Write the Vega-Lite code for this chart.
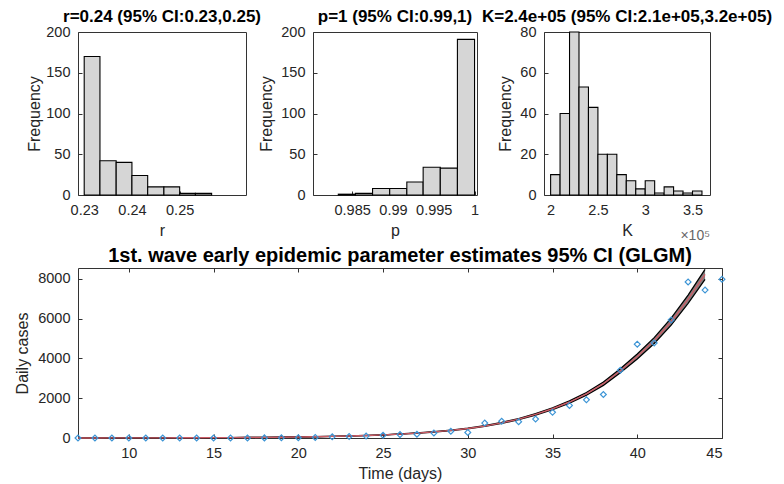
{
  "$schema": "https://vega.github.io/schema/vega-lite/v6.json",
  "background": "white",
  "padding": {"left": 12, "top": 7, "right": 0, "bottom": 0},
  "config": {
    "font": "Liberation Sans",
    "view": {"stroke": "#333333", "strokeWidth": 1},
    "axis": {
      "domain": false, "grid": false,
      "labelFont": "Liberation Sans", "labelFontSize": 14.5, "labelColor": "#262626",
      "titleFont": "Liberation Sans", "titleFontSize": 16, "titleFontWeight": "normal", "titleColor": "#262626",
      "tickColor": "#333333", "tickSize": -4, "labelPadding": 12, "titlePadding": 6
    },
    "title": {"font": "Liberation Sans", "fontWeight": "bold", "fontSize": 17, "color": "#000000", "offset": -2, "frame": "group", "anchor": "middle"}
  },
  "datasets": {
    "rhist": [
      {"bin_start": 0.2300, "bin_end": 0.2333, "count": 170},
      {"bin_start": 0.2333, "bin_end": 0.2367, "count": 42},
      {"bin_start": 0.2367, "bin_end": 0.2400, "count": 40},
      {"bin_start": 0.2400, "bin_end": 0.2433, "count": 24},
      {"bin_start": 0.2433, "bin_end": 0.2467, "count": 10},
      {"bin_start": 0.2467, "bin_end": 0.2500, "count": 10},
      {"bin_start": 0.2500, "bin_end": 0.2533, "count": 2},
      {"bin_start": 0.2533, "bin_end": 0.2567, "count": 2}
    ],
    "phist": [
      {"bin_start": 0.9833, "bin_end": 0.9854, "count": 1},
      {"bin_start": 0.9854, "bin_end": 0.9875, "count": 2},
      {"bin_start": 0.9875, "bin_end": 0.9896, "count": 8},
      {"bin_start": 0.9896, "bin_end": 0.9917, "count": 8},
      {"bin_start": 0.9917, "bin_end": 0.9937, "count": 16},
      {"bin_start": 0.9937, "bin_end": 0.9958, "count": 34},
      {"bin_start": 0.9958, "bin_end": 0.9979, "count": 33},
      {"bin_start": 0.9979, "bin_end": 1.0000, "count": 191}
    ],
    "khist": [
      {"bin_start": 200000, "bin_end": 210000, "count": 10},
      {"bin_start": 210000, "bin_end": 220000, "count": 40},
      {"bin_start": 220000, "bin_end": 230000, "count": 80},
      {"bin_start": 230000, "bin_end": 240000, "count": 53},
      {"bin_start": 240000, "bin_end": 250000, "count": 43},
      {"bin_start": 250000, "bin_end": 260000, "count": 20},
      {"bin_start": 260000, "bin_end": 270000, "count": 20},
      {"bin_start": 270000, "bin_end": 280000, "count": 10},
      {"bin_start": 280000, "bin_end": 290000, "count": 7},
      {"bin_start": 290000, "bin_end": 300000, "count": 3},
      {"bin_start": 300000, "bin_end": 310000, "count": 7},
      {"bin_start": 310000, "bin_end": 320000, "count": 1},
      {"bin_start": 320000, "bin_end": 330000, "count": 4},
      {"bin_start": 330000, "bin_end": 340000, "count": 2},
      {"bin_start": 340000, "bin_end": 350000, "count": 1},
      {"bin_start": 350000, "bin_end": 360000, "count": 2}
    ],
    "fit": [
      {"day": 7, "fit": 2.8, "lo": 2.7, "hi": 2.9},
      {"day": 8, "fit": 3.5, "lo": 3.4, "hi": 3.6},
      {"day": 9, "fit": 4.4, "lo": 4.3, "hi": 4.5},
      {"day": 10, "fit": 5.5, "lo": 5.3, "hi": 5.7},
      {"day": 11, "fit": 7, "lo": 6.8, "hi": 7.2},
      {"day": 12, "fit": 8.5, "lo": 8.2, "hi": 8.8},
      {"day": 13, "fit": 11, "lo": 10.7, "hi": 11.3},
      {"day": 14, "fit": 13, "lo": 12.6, "hi": 13.4},
      {"day": 15, "fit": 17, "lo": 16.5, "hi": 17.5},
      {"day": 16, "fit": 21, "lo": 20.4, "hi": 21.6},
      {"day": 17, "fit": 26, "lo": 25.2, "hi": 26.8},
      {"day": 18, "fit": 33, "lo": 32, "hi": 34},
      {"day": 19, "fit": 41, "lo": 39.8, "hi": 42.2},
      {"day": 20, "fit": 51, "lo": 49.5, "hi": 52.5},
      {"day": 21, "fit": 64, "lo": 62, "hi": 66},
      {"day": 22, "fit": 80, "lo": 78, "hi": 82},
      {"day": 23, "fit": 100, "lo": 97, "hi": 103},
      {"day": 24, "fit": 125, "lo": 121, "hi": 129},
      {"day": 25, "fit": 157, "lo": 152, "hi": 162},
      {"day": 26, "fit": 197, "lo": 191, "hi": 203},
      {"day": 27, "fit": 246, "lo": 239, "hi": 253},
      {"day": 28, "fit": 308, "lo": 299, "hi": 317},
      {"day": 29, "fit": 385, "lo": 373, "hi": 397},
      {"day": 30, "fit": 480, "lo": 466, "hi": 494},
      {"day": 31, "fit": 600, "lo": 582, "hi": 618},
      {"day": 32, "fit": 760, "lo": 737, "hi": 783},
      {"day": 33, "fit": 950, "lo": 922, "hi": 979},
      {"day": 34, "fit": 1190, "lo": 1154, "hi": 1226},
      {"day": 35, "fit": 1470, "lo": 1426, "hi": 1514},
      {"day": 36, "fit": 1810, "lo": 1756, "hi": 1864},
      {"day": 37, "fit": 2220, "lo": 2153, "hi": 2287},
      {"day": 38, "fit": 2730, "lo": 2648, "hi": 2812},
      {"day": 39, "fit": 3380, "lo": 3279, "hi": 3481},
      {"day": 40, "fit": 4100, "lo": 3977, "hi": 4223},
      {"day": 41, "fit": 4900, "lo": 4753, "hi": 5047},
      {"day": 42, "fit": 5850, "lo": 5675, "hi": 6026},
      {"day": 43, "fit": 6980, "lo": 6771, "hi": 7189},
      {"day": 44, "fit": 8230, "lo": 7983, "hi": 8477}
    ],
    "obs": [
      {"day": 7, "cases": 0}, {"day": 8, "cases": 0}, {"day": 9, "cases": 0},
      {"day": 10, "cases": 0}, {"day": 11, "cases": 0}, {"day": 12, "cases": 1},
      {"day": 13, "cases": 1}, {"day": 14, "cases": 2}, {"day": 15, "cases": 2},
      {"day": 16, "cases": 4}, {"day": 17, "cases": 5}, {"day": 18, "cases": 6},
      {"day": 19, "cases": 10}, {"day": 20, "cases": 15}, {"day": 21, "cases": 30},
      {"day": 22, "cases": 60}, {"day": 23, "cases": 80}, {"day": 24, "cases": 95},
      {"day": 25, "cases": 140}, {"day": 26, "cases": 170}, {"day": 27, "cases": 190},
      {"day": 28, "cases": 250}, {"day": 29, "cases": 340}, {"day": 30, "cases": 280},
      {"day": 31, "cases": 750}, {"day": 32, "cases": 840}, {"day": 33, "cases": 820},
      {"day": 34, "cases": 950}, {"day": 35, "cases": 1290}, {"day": 36, "cases": 1640},
      {"day": 37, "cases": 1920}, {"day": 38, "cases": 2190}, {"day": 39, "cases": 3410},
      {"day": 40, "cases": 4720}, {"day": 41, "cases": 4780}, {"day": 42, "cases": 5940},
      {"day": 43, "cases": 7850}, {"day": 44, "cases": 7440}, {"day": 45, "cases": 7980}
    ]
  },
  "spacing": 1,
  "vconcat": [
    {
      "bounds": "flush",
      "spacing": 67,
      "hconcat": [
        {
          "width": 168, "height": 163,
          "title": {"text": "r=0.24 (95% CI:0.23,0.25)"},
          "data": {"name": "rhist"},
          "mark": {"type": "rect", "fill": "#d6d6d6", "stroke": "#000000", "strokeWidth": 1.1},
          "encoding": {
            "x": {"field": "bin_start", "type": "quantitative", "scale": {"domain": [0.2287, 0.2639], "nice": false, "zero": false},
                  "axis": {"values": [0.23, 0.24, 0.25], "format": ".2f", "title": "r"}},
            "x2": {"field": "bin_end"},
            "y": {"field": "count", "type": "quantitative", "scale": {"domain": [0, 200], "nice": false},
                  "axis": {"values": [0, 50, 100, 150, 200], "title": "Frequency", "titleX": -36, "minExtent": 65}},
            "y2": {"datum": 0}
          }
        },
        {
          "width": 164, "height": 163,
          "title": {"text": "p=1 (95% CI:0.99,1)"},
          "data": {"name": "phist"},
          "mark": {"type": "rect", "fill": "#d6d6d6", "stroke": "#000000", "strokeWidth": 1.1},
          "encoding": {
            "x": {"field": "bin_start", "type": "quantitative", "scale": {"domain": [0.9802, 1.0003], "nice": false, "zero": false},
                  "axis": {"values": [0.985, 0.99, 0.995, 1], "format": "~g", "title": "p"}},
            "x2": {"field": "bin_end"},
            "y": {"field": "count", "type": "quantitative", "scale": {"domain": [0, 200], "nice": false},
                  "axis": {"values": [0, 50, 100, 150, 200], "title": "Frequency"}},
            "y2": {"datum": 0}
          }
        },
        {
          "width": 166, "height": 163,
          "title": {"text": "K=2.4e+05 (95% CI:2.1e+05,3.2e+05)"},
          "layer": [
            {
              "data": {"name": "khist"},
              "mark": {"type": "rect", "fill": "#d6d6d6", "stroke": "#000000", "strokeWidth": 1.1},
              "encoding": {
                "x": {"field": "bin_start", "type": "quantitative", "scale": {"domain": [193000, 368500], "nice": false, "zero": false},
                      "axis": {"values": [200000, 250000, 300000, 350000], "labelExpr": "format(datum.value / 100000, '~g')", "title": "K"}},
                "x2": {"field": "bin_end"},
                "y": {"field": "count", "type": "quantitative", "scale": {"domain": [0, 80], "nice": false},
                      "axis": {"values": [0, 20, 40, 60, 80], "title": "Frequency"}},
                "y2": {"datum": 0}
              }
            },
            {
              "data": {"values": [{}]},
              "mark": {"type": "text", "align": "right", "baseline": "alphabetic", "dy": 45, "fontSize": 14, "color": "#666666", "font": "Liberation Sans"},
              "encoding": {
                "x": {"datum": 368500, "type": "quantitative"},
                "y": {"datum": 0, "type": "quantitative"},
                "text": {"value": "×10⁵"}
              }
            }
          ]
        }
      ]
    },
    {
      "width": 644, "height": 170,
      "title": {"text": "1st. wave early epidemic parameter estimates 95% CI (GLGM)", "fontSize": 20, "offset": 1},
      "layer": [
        {
          "data": {"name": "fit"},
          "mark": {"type": "area", "color": "#808080"},
          "encoding": {
            "x": {"field": "day", "type": "quantitative", "scale": {"domain": [7, 45], "nice": false, "zero": false},
                  "axis": {"values": [10, 15, 20, 25, 30, 35, 40, 45], "title": "Time (days)", "orient": "bottom"}},
            "y": {"field": "lo", "type": "quantitative", "scale": {"domain": [0, 8550], "nice": false},
                  "axis": {"values": [0, 2000, 4000, 6000, 8000], "format": "d", "title": "Daily cases", "orient": "left", "titlePadding": 7}},
            "y2": {"field": "hi"}
          }
        },
        {
          "data": {"name": "fit"},
          "mark": {"type": "line", "color": "#000000", "strokeWidth": 1.3},
          "encoding": {
            "x": {"field": "day", "type": "quantitative", "axis": null},
            "y": {"field": "hi", "type": "quantitative", "axis": null}
          }
        },
        {
          "data": {"name": "fit"},
          "mark": {"type": "line", "color": "#000000", "strokeWidth": 1.3},
          "encoding": {
            "x": {"field": "day", "type": "quantitative", "axis": null},
            "y": {"field": "lo", "type": "quantitative", "axis": null}
          }
        },
        {
          "data": {"name": "fit"},
          "mark": {"type": "line", "color": "#cc5c66", "strokeWidth": 1.4},
          "encoding": {
            "x": {"field": "day", "type": "quantitative", "axis": null},
            "y": {"field": "fit", "type": "quantitative", "axis": null}
          }
        },
        {
          "data": {"name": "obs"},
          "mark": {"type": "point", "shape": "diamond", "filled": false, "color": "#3d95d6", "size": 34, "strokeWidth": 1.2, "opacity": 1},
          "encoding": {
            "x": {"field": "day", "type": "quantitative", "axis": null},
            "y": {"field": "cases", "type": "quantitative", "axis": null}
          }
        },
        {
          "data": {"name": "obs"},
          "mark": {"type": "point", "opacity": 0},
          "encoding": {
            "x": {"field": "day", "type": "quantitative",
                  "axis": {"orient": "top", "values": [10, 15, 20, 25, 30, 35, 40, 45], "labels": false, "title": null}},
            "y": {"field": "cases", "type": "quantitative",
                  "axis": {"orient": "right", "values": [0, 2000, 4000, 6000, 8000], "labels": false, "title": null}}
          }
        }
      ],
      "resolve": {"axis": {"x": "independent", "y": "independent"}}
    }
  ]
}
